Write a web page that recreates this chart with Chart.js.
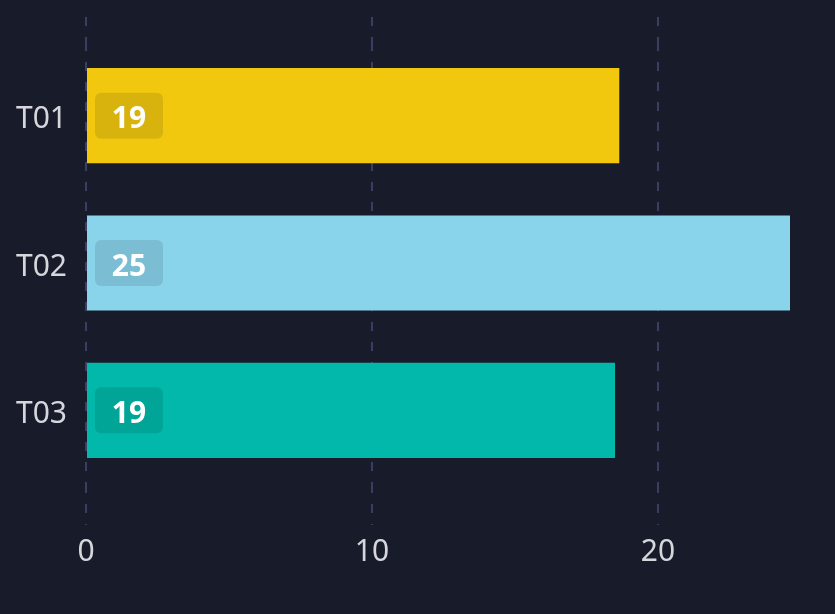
<!DOCTYPE html>
<html>
<head>
<meta charset="utf-8">
<script src="https://cdn.jsdelivr.net/npm/chart.js@4.4.1/dist/chart.umd.min.js"></script>
<style>
  html, body { margin: 0; padding: 0; background: #181b2a; }
  #wrap { width: 835px; height: 614px; position: relative; }
</style>
</head>
<body>
<div id="wrap"><canvas id="chart"></canvas></div>
<script>
// data
let labels = ['T01', 'T02', 'T03']
let values = [18.65, 24.62, 18.5]
let barColors = ['#F2C80F', '#8AD4EB', '#01B8AA']
let xTicks = [0, 10, 20]

let gridColor = '#383f62'
let textColor = '#d6d7dd'
let xMax = Math.max(...values)

// little rounded badge with the rounded value, sitting at the start of each bar
const badgePlugin = {
    id: 'badges',
    afterDatasetsDraw(chart) {
        const ctx = chart.ctx
        const meta = chart.getDatasetMeta(0)
        meta.data.forEach((bar, i) => {
            const w = 68, h = 46
            const x = bar.base + 8
            const y = bar.y - h / 2
            ctx.save()
            ctx.fillStyle = 'rgba(0,0,0,0.1)'
            ctx.beginPath()
            ctx.roundRect(x, y, w, h, 6)
            ctx.fill()
            ctx.fillStyle = '#ffffff'
            ctx.font = 'bold 30px "Noto Sans"'
            ctx.textAlign = 'center'
            ctx.textBaseline = 'middle'
            ctx.fillText(String(Math.round(values[i])), x + w / 2, bar.y + 4)
            ctx.restore()
        })
    }
}

const dashed = {
    color: gridColor,
    lineWidth: 2,
    tickColor: gridColor,
    tickWidth: 2,
    tickBorderDash: [9, 11]
}

const ctx = document.getElementById('chart').getContext('2d')
let globalChart = new Chart(ctx, {
    type: 'bar',
    data: {
        labels,
        datasets: [{
            data: values,
            backgroundColor: barColors,
            borderWidth: 0,
            barPercentage: 0.646,
            categoryPercentage: 1
        }]
    },
    options: {
        indexAxis: 'y',
        responsive: true,
        maintainAspectRatio: false,
        animation: false,
        layout: { padding: { left: 14, right: 45, top: 17, bottom: 35 } },
        plugins: {
            legend: { display: false },
            tooltip: { enabled: false }
        },
        scales: {
            x: {
                min: 0,
                max: xMax,
                afterBuildTicks: (scale) => { scale.ticks = xTicks.map(v => ({ value: v })) },
                grid: Object.assign({ tickLength: 41 }, dashed),
                border: { display: false, dash: [9, 11] },
                ticks: {
                    color: textColor,
                    padding: 9,
                    font: { family: '"Noto Sans"', size: 30 }
                }
            },
            x2: {
                position: 'top',
                axis: 'x',
                min: 0,
                max: xMax,
                afterBuildTicks: (scale) => { scale.ticks = xTicks.map(v => ({ value: v })) },
                grid: Object.assign({ tickLength: 25, drawOnChartArea: false }, dashed),
                border: { display: false },
                ticks: { display: false }
            },
            y: {
                afterFit: (scale) => { scale.width = 72 },
                grid: { display: false, drawTicks: false },
                border: { display: false },
                ticks: {
                    color: textColor,
                    padding: 19,
                    labelOffset: 4,
                    font: { family: '"Noto Sans"', size: 30 }
                }
            }
        }
    },
    plugins: [badgePlugin]
})
</script>
</body>
</html>
